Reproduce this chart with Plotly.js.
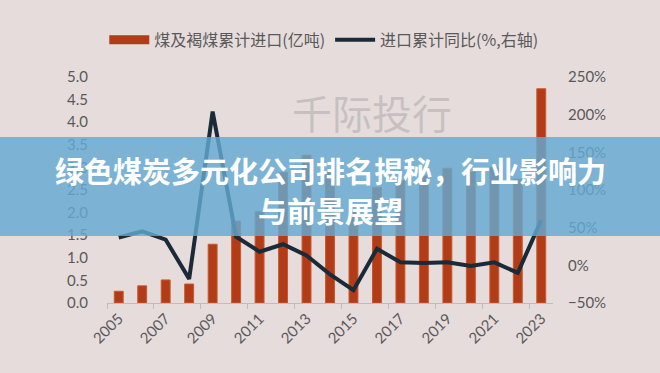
<!DOCTYPE html>
<html>
<head>
<meta charset="utf-8">
<script src="https://cdn.plot.ly/plotly-3.0.1.min.js"></script>
<style>
html,body{margin:0;padding:0;background:#e6dcdc;}
#chart{width:660px;height:373px;}
</style>
</head>
<body>
<div id="chart"></div>
<script>
const years = ['2005','2006','2007','2008','2009','2010','2011','2012','2013','2014','2015','2016','2017','2018','2019','2020','2021','2022','2023'];
const imports = [0.26, 0.38, 0.51, 0.42, 1.30, 1.81, 2.02, 2.89, 3.27, 2.91, 2.04, 2.56, 2.71, 2.81, 2.98, 2.90, 3.00, 2.74, 4.74];
const yoy = [37, 45, 34, -18, 204, 38, 18, 28, 13, -12, -33, 22, 4, 3, 4, -1, 4, -10, 60];
const barName = '煤及褐煤累计进口(亿吨)';
const lineName = '进口累计同比(%,右轴)';
const bannerLine1 = '绿色煤炭多元化公司排名揭秘，行业影响力';
const bannerLine2 = '与前景展望';
const watermark = '千际投行';

const font = 'Lato, "Noto Sans CJK SC", "Noto Sans", sans-serif';
const cjk = '"Noto Sans CJK SC", sans-serif';
const barColor = '#b23c18';

const traces = [
  {type:'bar', x:years, y:imports, name:barName, showlegend:false,
   marker:{color:barColor, line:{color:'#c9582c', width:1}}, yaxis:'y'},
  // legend proxy so the bar series gets a wide swatch like the reference
  {type:'scatter', mode:'lines', x:[null], y:[null], name:barName,
   line:{color:barColor, width:9}, yaxis:'y', hoverinfo:'skip'},
  {type:'scatter', mode:'lines', x:years, y:yoy, name:lineName,
   line:{color:'#1a2a38', width:4}, yaxis:'y2'}
];

const bannerFont = {family:cjk, size:29, color:'#ffffff', weight:'bold'};

const layout = {
  width:660, height:373,
  paper_bgcolor:'#e6dcdc', plot_bgcolor:'#e6dcdc',
  margin:{l:107, r:107, t:77, b:70},
  bargap:0.62,
  showlegend:true,
  legend:{orientation:'h', xref:'container', x:0.158, xanchor:'left',
          yref:'container', y:0.893, yanchor:'middle',
          font:{family:cjk, size:16, color:'#595959'}, bgcolor:'rgba(0,0,0,0)',
          itemwidth:40, tracegroupgap:0},
  xaxis:{type:'category', dtick:2, tickangle:-45, tickson:'boundaries',
         ticks:'outside', ticklen:5, tickcolor:'#bdbdbd',
         showline:true, linecolor:'#bdbdbd', linewidth:1, showgrid:false,
         tickfont:{family:font, size:15, color:'#595959'}, range:[-0.5,18.5]},
  yaxis:{range:[0,5], dtick:0.5, tickformat:'.1f', showgrid:false, zeroline:false,
         showline:false, ticks:'', ticklabelstandoff:18,
         tickfont:{family:font, size:15, color:'#595959'}},
  yaxis2:{range:[-50,250], dtick:50, ticksuffix:'%', overlaying:'y', side:'right',
          showgrid:false, zeroline:false, showline:false, ticks:'', ticklabelstandoff:14,
          tickfont:{family:font, size:15, color:'#595959'}},
  shapes:[
    {type:'rect', xref:'paper', yref:'paper', x0:-0.25, x1:1.25, y0:0.296, y1:0.7345,
     fillcolor:'rgba(100,170,210,0.82)', line:{width:0}, layer:'above'}
  ],
  annotations:[
    {xref:'paper', yref:'paper', x:0.594, y:0.845, xanchor:'center', yanchor:'middle',
     text:watermark, showarrow:false,
     font:{family:cjk, size:40, color:'rgba(140,140,140,0.35)'}},
    {xref:'paper', yref:'paper', x:0.5, y:0.588, xanchor:'center', yanchor:'middle',
     text:bannerLine1, showarrow:false, font:bannerFont},
    {xref:'paper', yref:'paper', x:0.5, y:0.412, xanchor:'center', yanchor:'middle',
     text:bannerLine2, showarrow:false, font:bannerFont}
  ]
};

Plotly.newPlot('chart', traces, layout, {displayModeBar:false, staticPlot:true});
</script>
</body>
</html>
